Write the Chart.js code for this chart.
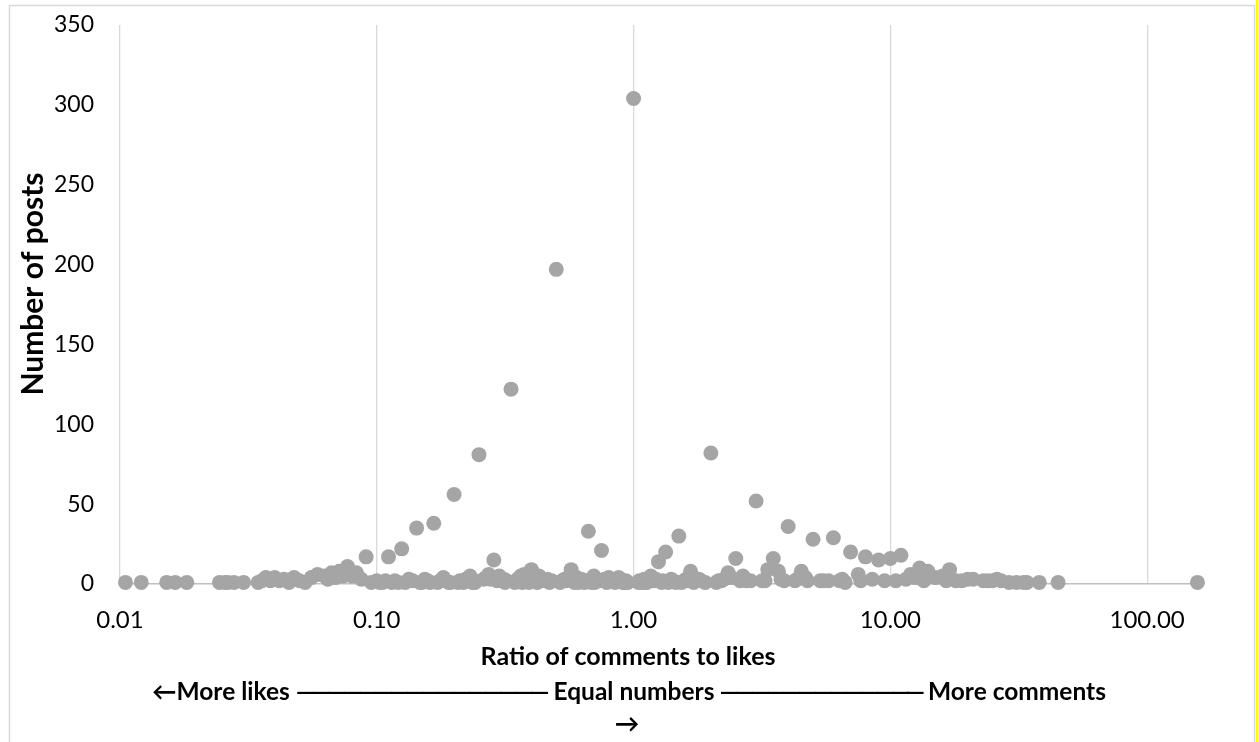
<!DOCTYPE html>
<html>
<head>
<meta charset="utf-8">
<script src="https://cdn.jsdelivr.net/npm/chart.js@4/dist/chart.umd.min.js"></script>
<style>
html,body{margin:0;padding:0;background:#fff;}
#wrap{position:relative;width:1259px;height:742px;}
</style>
</head>
<body>
<div id="wrap"><canvas id="c" width="1259" height="742"></canvas></div>
<script>
// Ratio of comments to likes (x) and number of posts (y)
const ratios = [
  0.0105,0.0121,0.0152,0.0164,0.0182,0.0244,0.0256,0.0263,0.0278,0.0303,
  0.0345,0.0357,0.0370,0.0385,0.0400,0.0417,0.0435,0.0455,0.0476,0.0500,
  0.0526,0.0556,0.0588,0.0625,0.0645,0.0667,0.0690,0.0714,0.0741,0.0769,
  0.0800,0.0833,0.0870,0.0909,0.0952,0.1000,0.1026,0.1053,0.1081,0.1111,
  0.1143,0.1176,0.1212,0.1250,0.1290,0.1333,0.1379,0.1429,0.1471,0.1500,
  0.1538,0.1579,0.1613,0.1667,0.1724,0.1765,0.1818,0.1852,0.1905,0.1935,
  0.2000,0.2069,0.2105,0.2174,0.2222,0.2258,0.2308,0.2353,0.2400,0.2414,
  0.2500,0.2609,0.2667,0.2727,0.2778,0.2857,0.2941,0.3000,0.3077,0.3125,
  0.3158,0.3200,0.3333,0.3448,0.3529,0.3571,0.3636,0.3684,0.3750,0.3846,
  0.3913,0.4000,0.4118,0.4167,0.4211,0.4286,0.4375,0.4444,0.4545,0.4615,
  0.4706,0.4800,0.5000,0.5172,0.5263,0.5385,0.5455,0.5556,0.5714,0.5833,
  0.5882,0.6000,0.6087,0.6154,0.6250,0.6364,0.6429,0.6522,0.6667,0.6842,
  0.6923,0.7000,0.7059,0.7143,0.7273,0.7368,0.7500,0.7692,0.7778,0.7857,
  0.8000,0.8182,0.8333,0.8462,0.8571,0.8750,0.8889,0.9000,0.9091,0.9167,
  0.9333,0.9500,1.0000,1.0435,1.0526,1.0714,1.0833,1.0909,1.1000,1.1111,
  1.1250,1.1429,1.1667,1.1818,1.2000,1.2222,1.2500,1.2857,1.3000,1.3333,
  1.3636,1.4000,1.4286,1.4615,1.5000,1.5385,1.5714,1.6000,1.6250,1.6667,
  1.7143,1.7500,1.8000,1.8333,1.9000,2.0000,2.1000,2.1429,2.2000,2.2500,
  2.3333,2.4000,2.5000,2.6000,2.6667,2.7500,2.8571,3.0000,3.1667,3.2500,
  3.3333,3.5000,3.6667,3.7500,3.8571,4.0000,4.2500,4.3333,4.5000,4.6667,
  4.7500,5.0000,5.3333,5.5000,5.7500,6.0000,6.3333,6.5000,6.6667,7.0000,
  7.5000,7.6667,8.0000,8.5000,9.0000,9.5000,10.000,10.500,11.000,11.500,
  12.000,12.500,13.000,13.500,14.000,15.000,16.000,16.500,17.000,18.000,
  19.000,20.000,21.000,23.000,24.000,25.000,26.000,27.000,29.000,31.000,
  33.000,34.000,38.000,45.000,157.00
];
const posts = [
  1,1,1,1,1,1,1,1,1,1,
  1,2,4,2,4,2,3,1,4,2,
  1,4,6,5,3,7,4,8,5,11,
  5,7,3,17,1,2,1,1,2,17,
  1,2,1,22,1,3,2,35,1,1,
  3,2,1,38,1,2,4,2,1,1,
  56,1,2,1,3,2,5,1,2,1,
  81,3,4,6,3,15,2,5,2,3,
  1,2,122,1,3,2,5,1,6,3,
  1,9,2,4,1,5,2,3,2,3,
  1,2,197,1,2,3,2,4,9,3,
  1,4,1,2,3,2,1,2,33,1,
  2,5,1,3,2,2,21,3,2,1,
  4,2,2,1,3,4,3,2,1,1,
  2,1,304,1,2,1,2,2,3,1,
  1,3,5,2,2,3,14,1,2,20,
  1,3,2,1,30,1,2,3,2,8,
  1,2,3,2,1,82,1,2,2,3,
  7,4,16,2,5,2,2,52,2,2,
  9,16,8,3,2,36,2,3,8,4,
  2,28,2,2,2,29,2,3,1,20,
  6,2,17,3,15,2,16,2,18,3,
  6,4,10,2,8,4,5,2,9,2,
  2,3,3,2,2,2,3,2,1,1,
  1,1,1,1,1
];
const xTicks = [0.01, 0.1, 1, 10, 100];
const yTitle = 'Number of posts';
const xTitle = 'Ratio of comments to likes';
const noteLeft = '\u2190More likes';
const noteMid = 'Equal numbers';
const noteRight = 'More comments';
const noteArrow = '\u2192';

const points = ratios.map((r, i) => ({x: r, y: posts[i]}));

const FONT = 'Lato, "Open Sans", sans-serif';

const framePlugin = {
  id: 'frame',
  beforeDraw(chart) {
    const ctx = chart.ctx;
    ctx.save();
    ctx.fillStyle = '#ffffff';
    ctx.fillRect(0, 0, chart.width, chart.height);
    ctx.strokeStyle = '#d9d9d9';
    ctx.lineWidth = 1.5;
    ctx.strokeRect(9.5, 5.5, 1245, 745);
    ctx.fillStyle = '#ffff00';
    ctx.fillRect(1256, 0, 2.5, chart.height);
    ctx.restore();
  },
  afterDraw(chart) {
    const ctx = chart.ctx;
    ctx.save();
    ctx.fillStyle = '#000000';
    ctx.textBaseline = 'middle';
    // y title
    ctx.save();
    ctx.font = 'bold 30px ' + FONT;
    ctx.translate(33, 284);
    ctx.rotate(-Math.PI / 2);
    ctx.textAlign = 'center';
    ctx.fillText(yTitle, 0, 0);
    ctx.restore();
    // x title
    ctx.font = 'bold 25px ' + FONT;
    ctx.textAlign = 'center';
    ctx.fillText(xTitle, 628, 657);
    // note line
    ctx.font = 'bold 24.5px ' + FONT;
    const ly = 692;
    ctx.textAlign = 'left';
    ctx.fillText(noteLeft, 152, ly);
    ctx.textAlign = 'center';
    ctx.fillText(noteMid, 634, ly);
    const midW = ctx.measureText(noteMid).width;
    ctx.textAlign = 'left';
    ctx.fillText(noteRight, 928, ly);
    const dash = '\u2014';
    const dw = ctx.measureText(dash).width;
    function dashes(x0, x1) {
      let x = x0;
      while (x + dw < x1) { ctx.fillText(dash, x, ly); x += dw * 0.8; }
      ctx.fillText(dash, x1 - dw, ly);
    }
    const l1 = 152 + ctx.measureText(noteLeft).width + 6;
    dashes(l1, 634 - midW / 2 - 4);
    dashes(634 + midW / 2 + 5, 925);
    ctx.textAlign = 'center';
    ctx.fillText(noteArrow, 627, 724);
    ctx.restore();
  }
};

new Chart(document.getElementById('c'), {
  type: 'scatter',
  data: {
    datasets: [{
      data: points,
      backgroundColor: '#a5a5a5',
      borderWidth: 0,
      pointRadius: 7.5,
      pointHoverRadius: 7.5,
      clip: false
    }]
  },
  plugins: [framePlugin],
  options: {
    responsive: false,
    animation: false,
    devicePixelRatio: 1,
    layout: { padding: { left: 0, right: 56, top: 25, bottom: 0 } },
    plugins: { legend: { display: false }, tooltip: { enabled: false } },
    scales: {
      x: {
        type: 'logarithmic',
        min: 0.01,
        max: 165,
        afterBuildTicks(scale) { scale.ticks = xTicks.map(v => ({value: v})); },
        afterFit(scale) { scale.height = 158; scale.paddingLeft = 0; scale.paddingRight = 0; },
        ticks: {
          autoSkip: false,
          maxRotation: 0,
          padding: 22,
          color: '#000000',
          font: { family: FONT, size: 24 },
          callback: (v) => Number(v).toFixed(2)
        },
        grid: { color: '#d9d9d9', lineWidth: 1.3, drawTicks: false },
        border: { display: true, color: '#bfbfbf', width: 1.5 }
      },
      y: {
        min: 0,
        max: 350,
        afterFit(scale) { scale.width = 120; scale.paddingTop = 0; scale.paddingBottom = 0; },
        ticks: {
          stepSize: 50,
          padding: 26,
          color: '#000000',
          font: { family: FONT, size: 23 }
        },
        grid: { display: false, drawTicks: false },
        border: { display: false }
      }
    }
  }
});
</script>
</body>
</html>
